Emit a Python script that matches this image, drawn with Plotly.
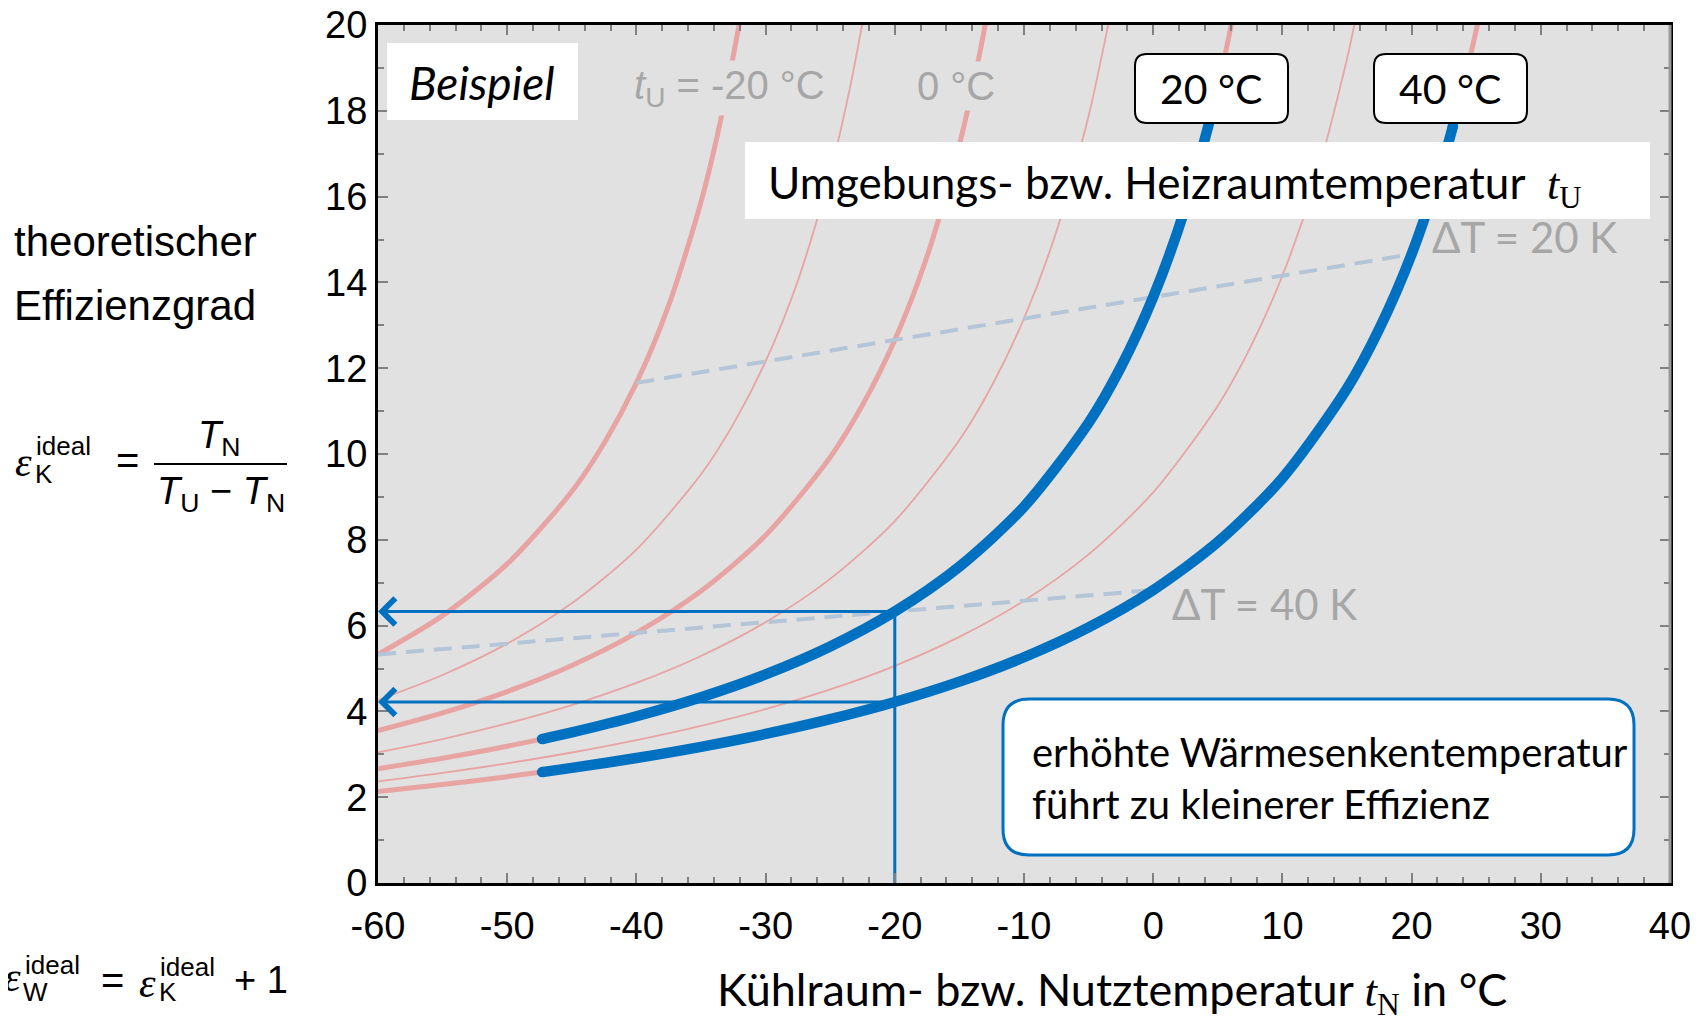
import plotly.graph_objects as go

# ---------------- data ----------------
# red reference curves, one per ambient temperature t_U
tU_m20_x = [-60, -55, -50, -45, -42.5, -40, -37.5, -35, -33.5, -32]
tU_m20_y = [5.329, 6.233, 7.438, 9.126, 10.251, 11.658, 13.466, 15.877, 17.752, 20.09]

tU_m10_x = [-60, -55, -50, -45, -40, -35, -32.5, -30, -27.5, -25, -23.5, -22.5]
tU_m10_y = [4.263, 4.848, 5.579, 6.519, 7.772, 9.526, 10.696, 12.158, 14.037, 16.543, 18.493, 20.052]

tU_0_x = [-60, -55, -50, -45, -40, -35, -30, -25, -22.5, -20, -17.5, -15, -13.5, -13]
tU_0_y = [3.553, 3.966, 4.463, 5.070, 5.829, 6.804, 8.105, 9.926, 11.140, 12.658, 14.609, 17.210, 19.233, 20.012]

tU_10_x = [-60, -55, -50, -45, -40, -35, -30, -25, -20, -15, -12.5, -10, -7.5, -5, -3.5, -3.4]
tU_10_y = [3.045, 3.356, 3.719, 4.148, 4.663, 5.292, 6.079, 7.090, 8.438, 10.326, 11.584, 13.158, 15.180, 17.877, 19.974, 20.12]

tU_20_x = [-60, -55, -50, -45, -40, -35, -30, -25, -20, -15, -10, -5, -2.5, 0, 2.5, 5, 6, 6.1]
tU_20_y = [2.664, 2.909, 3.188, 3.510, 3.886, 4.330, 4.863, 5.514, 6.329, 7.376, 8.772, 10.726, 12.029, 13.658, 15.751, 18.543, 19.939, 20.09]

tU_30_x = [-60, -55, -50, -45, -40, -35, -30, -25, -20, -15, -10, -5, 0, 5, 7.5, 10, 12.5, 15, 15.6]
tU_30_y = [2.368, 2.566, 2.789, 3.042, 3.331, 3.664, 4.053, 4.512, 5.063, 5.737, 6.579, 7.661, 9.105, 11.126, 12.473, 14.158, 16.323, 19.210, 20.05]

tU_40_x = [-60, -55, -50, -45, -40, -35, -30, -25, -20, -15, -10, -5, 0, 5, 10, 15, 17.5, 20, 22.5, 24, 25, 25.2]
tU_40_y = [2.132, 2.296, 2.479, 2.684, 2.914, 3.175, 3.474, 3.818, 4.219, 4.694, 5.263, 5.959, 6.829, 7.947, 9.438, 11.526, 12.918, 14.658, 16.894, 18.572, 19.877, 20.15]

# highlighted (blue) curves
blue20_x = [-47.3, -45, -40, -35, -30, -25, -20, -15, -10, -5, -2.5, 0, 2.5, 4.5]
blue20_y = [3.356, 3.510, 3.886, 4.330, 4.863, 5.514, 6.329, 7.376, 8.772, 10.726, 12.029, 13.658, 15.751, 17.913]
blue40_x = [-47.3, -45, -40, -35, -30, -25, -20, -15, -10, -5, 0, 5, 10, 15, 17.5, 20, 22.5, 23.2]
blue40_y = [2.585, 2.684, 2.914, 3.175, 3.474, 3.818, 4.219, 4.694, 5.263, 5.959, 6.829, 7.947, 9.438, 11.526, 12.918, 14.658, 16.894, 17.640]

# constant temperature-difference lines
dT20_x = [-40, 20]
dT20_y = [11.658, 14.658]
dT40_x = [-60, 0]
dT40_y = [5.329, 6.829]

# example reading at t_N = -20 °C
example_tN = -20
example_eps = [6.329, 4.219]

x_ticks = [-60, -50, -40, -30, -20, -10, 0, 10, 20, 30, 40]
x_ticktext = ["-60", "-50", "-40", "-30", "-20", "-10", "0", "10", "20", "30", "40"]
y_ticks = [0, 2, 4, 6, 8, 10, 12, 14, 16, 18, 20]

# ---------------- styling ----------------
RED = "#e8a3a3"
BLUE = "#0070c0"
DASH = "#b3c5d7"
GREYTXT = "#a6a6a6"
PLOTBG = "#e1e1e1"
ARIAL = "Liberation Sans"
CAL = "Lato"
SERIF = "Liberation Serif"

# plot area in page pixels; the page body adds an 8 px offset to the figure
OFF = 8
PL, PR, PT, PB = 378, 1670, 25, 883
W, H = 1700, 1020


def px(x):
    return (x - PL) / (PR - PL)


def py(y):
    return (PB - y) / (PB - PT)


fig = go.Figure()

red_curves = [
    (tU_m20_x, tU_m20_y, 5),
    (tU_m10_x, tU_m10_y, 1.8),
    (tU_0_x, tU_0_y, 5),
    (tU_10_x, tU_10_y, 1.8),
    (tU_20_x, tU_20_y, 5),
    (tU_30_x, tU_30_y, 1.8),
    (tU_40_x, tU_40_y, 5),
]
for xs, ys, w in red_curves:
    fig.add_trace(go.Scatter(x=xs, y=ys, mode="lines",
                             line=dict(color=RED, width=w, shape="spline", smoothing=0.8),
                             hoverinfo="skip", showlegend=False))

for xs, ys in [(dT20_x, dT20_y), (dT40_x, dT40_y)]:
    fig.add_trace(go.Scatter(x=xs, y=ys, mode="lines",
                             line=dict(color=DASH, width=4, dash="18px,10px"),
                             hoverinfo="skip", showlegend=False))

for xs, ys in [(blue20_x, blue20_y), (blue40_x, blue40_y)]:
    fig.add_trace(go.Scatter(x=xs, y=ys, mode="lines",
                             line=dict(color=BLUE, width=10.5, shape="spline", smoothing=0.8),
                             hoverinfo="skip", showlegend=False))
    fig.add_trace(go.Scatter(x=[xs[0], xs[-1]], y=[ys[0], ys[-1]], mode="markers",
                             marker=dict(color=BLUE, size=10.5, line=dict(width=0)),
                             hoverinfo="skip", showlegend=False))

# vertical reading line
fig.add_trace(go.Scatter(x=[example_tN, example_tN], y=[0, max(example_eps)], mode="lines",
                         line=dict(color=BLUE, width=3), hoverinfo="skip", showlegend=False))

annotations = []
for e in example_eps:
    annotations.append(dict(x=x_ticks[0], y=e, ax=example_tN, ay=e, xref="x", yref="y",
                            axref="x", ayref="y", text="", showarrow=True, arrowhead=4,
                            arrowsize=1.7, arrowwidth=3, arrowcolor=BLUE, standoff=0))


def txt(x, y, text, size, family=ARIAL, color="black", xa="center", ya="middle", **kw):
    d = dict(x=px(x), y=py(y), xref="paper", yref="paper", text=text, showarrow=False,
             xanchor=xa, yanchor=ya, font=dict(family=family, size=size, color=color))
    d.update(kw)
    annotations.append(d)


# left-hand descriptive text
txt(12, 241, "theoretischer", 42, xa="left")
txt(12, 306, "Effizienzgrad", 42, xa="left")

# formula: eps_K = T_N / (T_U - T_N)
txt(34, 462, "<i>ε</i>", 42, family=SERIF, xa="right")
txt(34, 446, "ideal", 26, xa="left")
txt(33, 474, "K", 26, xa="left")
txt(127, 460, "=", 40)
txt(219, 438, "<i>T</i><sub>N</sub>", 38)
txt(221, 494, "<i>T</i><sub>U</sub> − <i>T</i><sub>N</sub>", 38)

# formula: eps_W = eps_K + 1
txt(23, 977, "<i>ε</i>", 42, family=SERIF, xa="right")
txt(23, 965, "ideal", 26, xa="left")
txt(21, 992, "W", 26, xa="left")
txt(112, 980, "=", 40)
txt(158, 983, "<i>ε</i>", 42, family=SERIF, xa="right")
txt(158, 967, "ideal", 26, xa="left")
txt(157, 992, "K", 26, xa="left")
txt(261, 980, "+ 1", 38)

# labels inside the plot
txt(482, 82, "<i>Beispiel</i>", 46, family=CAL)
txt(729, 88, "<i>t</i><sub>U</sub> = -20 °C", 40, color=GREYTXT, bgcolor=PLOTBG, borderpad=2)
txt(956, 86, "0 °C", 40, color=GREYTXT, bgcolor=PLOTBG, borderpad=2)
txt(1211, 88, "20 °C", 41, family=CAL)
txt(1450, 88, "40 °C", 41, family=CAL)
txt(766, 185, "Umgebungs- bzw. Heizraumtemperatur  "
    "<span style='font-family:Liberation Serif'><i>t</i><sub>U</sub></span>",
    44, family=CAL, xa="left")
txt(1524, 237, "ΔT = 20 K", 42, family=CAL, color=GREYTXT)
txt(1264, 604, "ΔT = 40 K", 42, family=CAL, color=GREYTXT)
txt(1030, 778, "erhöhte Wärmesenkentemperatur<br>führt zu kleinerer Effizienz", 40,
    family=CAL, xa="left", align="left")

# x-axis title
txt(1112, 992, "Kühlraum- bzw. Nutztemperatur "
    "<span style='font-family:Liberation Serif'><i>t</i><sub>N</sub></span> in °C",
    45, family=CAL)


def rrect(x0, y0, x1, y1, r):
    pts = [("M", [(x0 + r, y0)]), ("L", [(x1 - r, y0)]), ("Q", [(x1, y0), (x1, y0 + r)]),
           ("L", [(x1, y1 - r)]), ("Q", [(x1, y1), (x1 - r, y1)]), ("L", [(x0 + r, y1)]),
           ("Q", [(x0, y1), (x0, y1 - r)]), ("L", [(x0, y0 + r)]), ("Q", [(x0, y0), (x0 + r, y0)])]
    s = ""
    for cmd, ps in pts:
        s += cmd + " ".join(f"{px(a):.5f},{py(b):.5f}" for a, b in ps) + " "
    return s + "Z"


def rect(x0, y0, x1, y1):
    return dict(type="rect", xref="paper", yref="paper", x0=px(x0), x1=px(x1),
                y0=py(y1), y1=py(y0), fillcolor="white", line=dict(width=0), layer="above")


shapes = [
    rect(387, 43, 578, 120),
    rect(745, 142, 1650, 219),
    dict(type="path", xref="paper", yref="paper", path=rrect(1135, 54, 1288, 123, 12),
         fillcolor="white", line=dict(color="black", width=2), layer="above"),
    dict(type="path", xref="paper", yref="paper", path=rrect(1374, 54, 1527, 123, 12),
         fillcolor="white", line=dict(color="black", width=2), layer="above"),
    dict(type="path", xref="paper", yref="paper", path=rrect(1003, 699, 1634, 855, 26),
         fillcolor="white", line=dict(color=BLUE, width=3), layer="above"),
    # right frame edge (thin grey)
    dict(type="line", xref="paper", yref="paper", x0=1, x1=1, y0=0, y1=1,
         line=dict(color="#9a9a9a", width=3), layer="above"),
    # fraction bar of the formula
    dict(type="line", xref="paper", yref="paper", x0=px(154), x1=px(287), y0=py(464), y1=py(464),
         line=dict(color="black", width=2)),
]

fig.update_layout(
    width=W, height=H,
    margin=dict(l=PL - OFF, r=W - (PR - OFF), t=PT - OFF, b=H - (PB - OFF), autoexpand=False),
    paper_bgcolor="white", plot_bgcolor=PLOTBG,
    showlegend=False,
    annotations=annotations, shapes=shapes,
    xaxis=dict(range=[-60, 40], tickvals=x_ticks, ticktext=x_ticktext, automargin=False,
               ticklabeloverflow="allow", ticklabelstandoff=7,
               ticks="inside", ticklen=10, tickwidth=1.5, tickcolor="#808080",
               minor=dict(dtick=2, ticks="inside", ticklen=6, tickwidth=1.5, tickcolor="#808080"),
               showline=True, linecolor="black", linewidth=3, mirror="allticks",
               showgrid=False, zeroline=False,
               tickfont=dict(family=ARIAL, size=38, color="black")),
    yaxis=dict(range=[0, 20], tickvals=y_ticks, automargin=False,
               ticklabeloverflow="allow",
               ticks="inside", ticklen=10, tickwidth=1.5, tickcolor="#808080",
               minor=dict(dtick=1, ticks="inside", ticklen=6, tickwidth=1.5, tickcolor="#808080"),
               showline=True, linecolor="black", linewidth=3, mirror="allticks",
               showgrid=False, zeroline=False,
               tickfont=dict(family=ARIAL, size=38, color="black")),
)

fig.write_html("out.html")
